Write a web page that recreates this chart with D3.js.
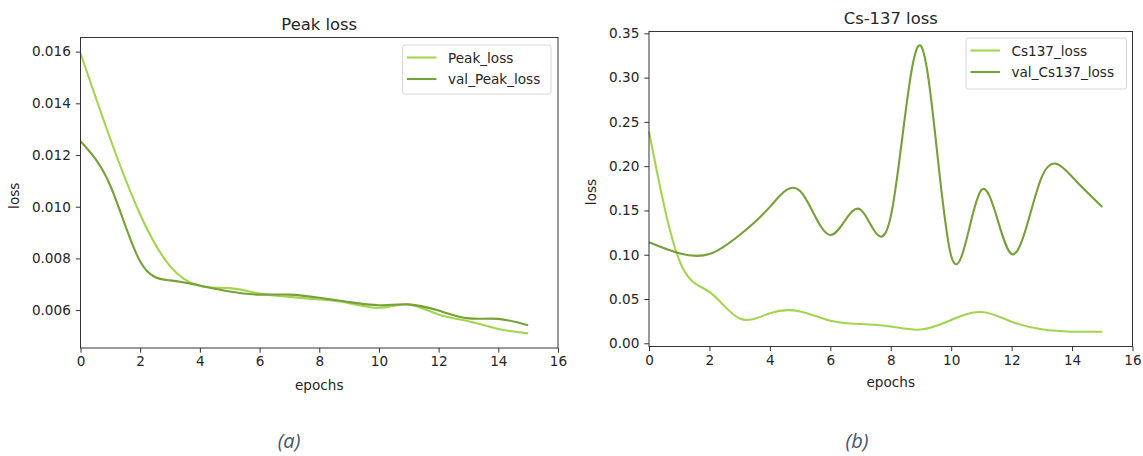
<!DOCTYPE html>
<html>
<head>
<meta charset="utf-8">
<script src="https://cdn.jsdelivr.net/npm/d3@7"></script>
<style>
  html, body { margin: 0; padding: 0; background: #fff; }
  svg { display: block; }
  text { font-family: "DejaVu Sans", sans-serif; fill: #262626; }
  .caption { font-family: "Open Sans", Lato, sans-serif; font-style: italic; fill: #44546a; }
</style>
</head>
<body>
<svg id="fig" width="1143" height="456"></svg>
<script>
// Training history, one value per epoch
const epochs = [0, 1, 2, 3, 4, 5, 6, 7, 8, 9, 10, 11, 12, 13, 14, 15];

const peakLoss    = [0.01594, 0.01262, 0.00970, 0.00770, 0.00693, 0.00685, 0.00664, 0.00651,
                     0.00641, 0.00627, 0.00609, 0.00621, 0.00583, 0.00557, 0.00527, 0.00510];
const valPeakLoss = [0.01253, 0.01081, 0.00788, 0.00715, 0.00695, 0.00672, 0.00660, 0.00660,
                     0.00648, 0.00631, 0.00619, 0.00622, 0.00598, 0.00568, 0.00566, 0.00541];

const csLoss    = [0.239, 0.094, 0.058, 0.028, 0.034, 0.036, 0.0255, 0.0218,
                   0.019, 0.0155, 0.0263, 0.0353, 0.0244, 0.0158, 0.0131, 0.0131];
const valCsLoss = [0.114, 0.1016, 0.1008, 0.1223, 0.154, 0.172, 0.1223, 0.151,
                   0.143, 0.3357, 0.0985, 0.173, 0.1008, 0.188, 0.188, 0.154];

const xTicks = [0, 2, 4, 6, 8, 10, 12, 14, 16];
const peakTicks = [0.006, 0.008, 0.010, 0.012, 0.014, 0.016];
const csTicks = [0.00, 0.05, 0.10, 0.15, 0.20, 0.25, 0.30, 0.35];

const LIGHT = "#a2d54e";
const DARK  = "#76a038";
const FS = 13.6;

const svg = d3.select("#fig");

function panel(opt) {
  const { left, right, top, bottom, title, yDomain, yTicks, yFmt, series, legend } = opt;
  const x = d3.scaleLinear().domain([0, 16]).range([left, right]);
  const y = d3.scaleLinear().domain(yDomain).range([bottom, top]);
  const g = svg.append("g");

  const line = d3.line().x((d, i) => x(epochs[i])).y(d => y(d)).curve(d3.curveNatural);

  series.forEach(s => {
    g.append("path").datum(s.values)
      .attr("d", line).attr("fill", "none")
      .attr("stroke", s.color).attr("stroke-width", 2.1)
      .attr("stroke-linejoin", "round");
  });

  // axes
  const xa = g.append("g").attr("transform", `translate(0,${bottom})`)
    .call(d3.axisBottom(x).tickValues(xTicks).tickFormat(d3.format("d")).tickSize(4.7).tickPadding(4));
  const ya = g.append("g").attr("transform", `translate(${left},0)`)
    .call(d3.axisLeft(y).tickValues(yTicks).tickFormat(yFmt).tickSize(4.7).tickPadding(5));
  [xa, ya].forEach(a => {
    a.select(".domain").remove();
    a.selectAll("line").attr("stroke", "#333").attr("stroke-width", 1);
    a.selectAll("text").attr("font-size", FS).attr("fill", "#262626")
      .attr("font-family", "DejaVu Sans, sans-serif");
  });

  // frame
  g.append("rect").attr("x", left).attr("y", top)
    .attr("width", right - left).attr("height", bottom - top)
    .attr("fill", "none").attr("stroke", "#333").attr("stroke-width", 1);

  g.append("text").attr("x", (left + right) / 2).attr("y", top - 8)
    .attr("text-anchor", "middle").attr("font-size", 16.4).text(title);
  g.append("text").attr("x", (left + right) / 2).attr("y", opt.xLabelY)
    .attr("text-anchor", "middle").attr("font-size", FS).text("epochs");
  g.append("text")
    .attr("transform", `translate(${opt.yLabelX},${(top + bottom) / 2 + 3}) rotate(-90)`)
    .attr("text-anchor", "middle").attr("font-size", FS).text("loss");

  // legend
  const lg = g.append("g");
  lg.append("rect").attr("x", legend.x).attr("y", legend.y)
    .attr("width", legend.w).attr("height", legend.h).attr("rx", 2.5)
    .attr("fill", "#fff").attr("fill-opacity", 0.8)
    .attr("stroke", "#d6d6d6").attr("stroke-width", 1);
  series.forEach((s, i) => {
    const cy = legend.y + 12.5 + i * 21.5;
    lg.append("line").attr("x1", legend.x + 4.5).attr("x2", legend.x + 34)
      .attr("y1", cy).attr("y2", cy).attr("stroke", s.color).attr("stroke-width", 2.1);
    lg.append("text").attr("x", legend.x + 45.5).attr("y", cy + 5)
      .attr("font-size", FS).text(s.name);
  });
}

panel({
  left: 80.5, right: 558, top: 37.5, bottom: 348,
  title: "Peak loss",
  yDomain: [0.004533, 0.016547], yTicks: peakTicks, yFmt: d3.format(".3f"),
  xLabelY: 389.5, yLabelX: 19,
  series: [
    { name: "Peak_loss", values: peakLoss, color: LIGHT },
    { name: "val_Peak_loss", values: valPeakLoss, color: DARK }
  ],
  legend: { x: 402.5, y: 45, w: 148.5, h: 49 }
});

panel({
  left: 649, right: 1132.5, top: 31.5, bottom: 346.5,
  title: "Cs-137 loss",
  yDomain: [-0.00362, 0.35205], yTicks: csTicks, yFmt: d3.format(".2f"),
  xLabelY: 387, yLabelX: 596,
  series: [
    { name: "Cs137_loss", values: csLoss, color: LIGHT },
    { name: "val_Cs137_loss", values: valCsLoss, color: DARK }
  ],
  legend: { x: 966, y: 38, w: 160.5, h: 51 }
});

svg.append("text").attr("class", "caption").attr("x", 289).attr("y", 448)
  .attr("text-anchor", "middle").attr("font-size", 20).text("(a)");
svg.append("text").attr("class", "caption").attr("x", 857).attr("y", 448)
  .attr("text-anchor", "middle").attr("font-size", 20).text("(b)");
</script>
</body>
</html>
